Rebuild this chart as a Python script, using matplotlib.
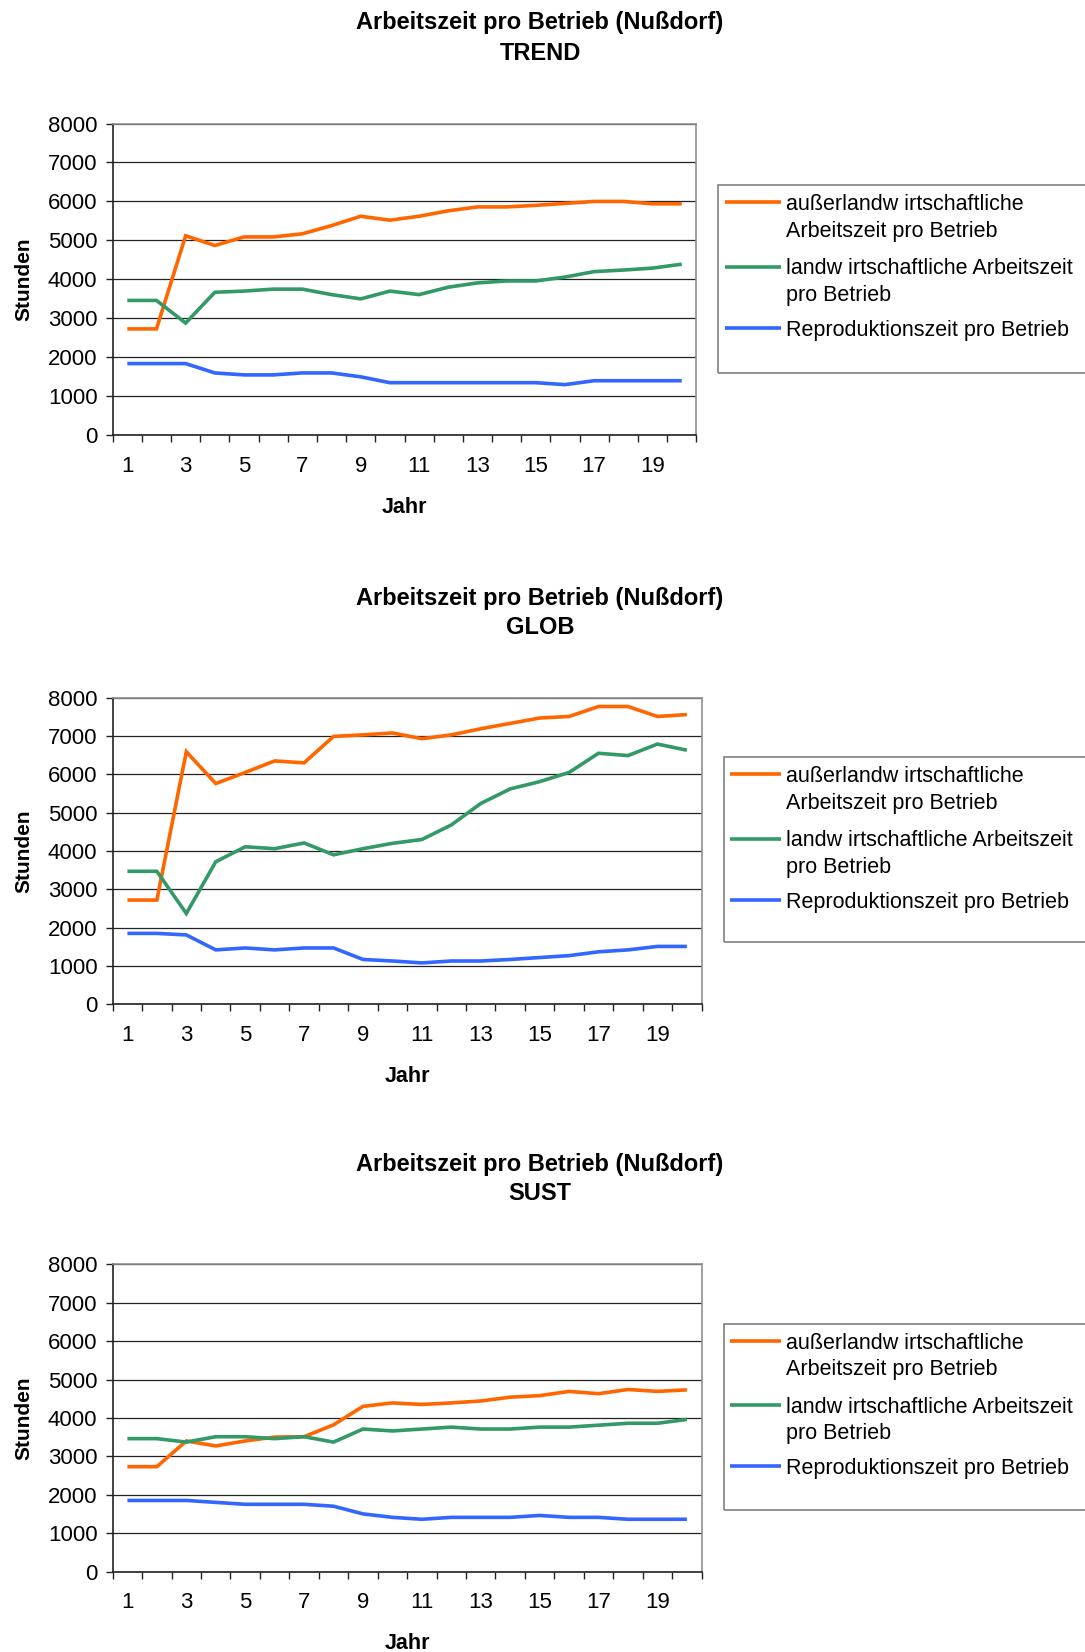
import matplotlib
matplotlib.use("Agg")
import matplotlib.pyplot as plt
from matplotlib.lines import Line2D
from matplotlib.patches import Rectangle
from matplotlib.ticker import FixedLocator, NullFormatter

plt.rcParams['font.family'] = ['Liberation Sans', 'DejaVu Sans']

years = list(range(1, 21))

title_main = "Arbeitszeit pro Betrieb (Nußdorf)"
scenarios = ["TREND", "GLOB", "SUST"]

series_labels = [
    "außerlandw irtschaftliche\nArbeitszeit pro Betrieb",
    "landw irtschaftliche Arbeitszeit\npro Betrieb",
    "Reproduktionszeit pro Betrieb",
]
series_colors = ["#FF6600", "#339966", "#3366FF"]

# TREND scenario (hours per farm)
trend_ausser = [2730, 2730, 5120, 4870, 5090, 5090, 5170, 5380, 5620, 5520,
                5620, 5760, 5860, 5860, 5900, 5950, 6000, 6000, 5940, 5940]
trend_landw = [3460, 3460, 2880, 3670, 3700, 3750, 3750, 3610, 3500, 3700,
               3610, 3800, 3910, 3960, 3960, 4060, 4200, 4240, 4290, 4390]
trend_repro = [1840, 1840, 1840, 1600, 1550, 1550, 1600, 1600, 1500, 1350,
               1350, 1350, 1350, 1350, 1350, 1300, 1400, 1400, 1400, 1400]

# GLOB scenario
glob_ausser = [2720, 2720, 6590, 5760, 6050, 6350, 6300, 6990, 7030, 7080,
               6930, 7030, 7190, 7330, 7470, 7510, 7770, 7770, 7510, 7560]
glob_landw = [3470, 3470, 2370, 3720, 4110, 4060, 4210, 3900, 4060, 4200,
              4300, 4680, 5240, 5620, 5810, 6050, 6550, 6490, 6790, 6630]
glob_repro = [1850, 1850, 1810, 1420, 1470, 1420, 1470, 1470, 1170, 1130,
              1080, 1130, 1130, 1170, 1220, 1270, 1370, 1420, 1510, 1510]

# SUST scenario
sust_ausser = [2730, 2730, 3400, 3270, 3400, 3500, 3510, 3820, 4300, 4390,
               4350, 4390, 4440, 4540, 4580, 4690, 4630, 4740, 4690, 4730]
sust_landw = [3460, 3460, 3370, 3510, 3510, 3460, 3510, 3370, 3710, 3660,
              3710, 3760, 3710, 3710, 3760, 3760, 3810, 3860, 3860, 3960]
sust_repro = [1850, 1850, 1850, 1800, 1750, 1750, 1750, 1700, 1500, 1410,
              1360, 1410, 1410, 1410, 1460, 1410, 1410, 1360, 1360, 1360]

scenario_data = [
    (trend_ausser, trend_landw, trend_repro),
    (glob_ausser, glob_landw, glob_repro),
    (sust_ausser, sust_landw, sust_repro),
]

y_ticks = [0, 1000, 2000, 3000, 4000, 5000, 6000, 7000, 8000]
x_tick_labels = [1, 3, 5, 7, 9, 11, 13, 15, 17, 19]

W, H = 1085, 1652
fig = plt.figure(figsize=(W / 100, H / 100), dpi=100)

# panel geometry in pixels: (left, right, top, bottom)
panels = [
    (112.7, 696.3, 123.5, 435.3),
    (112.7, 701.6, 697.7, 1004.3),
    (112.7, 701.6, 1264.3, 1571.5),
]
title_y = [(23, 53), (599, 628), (1165, 1194)]
legend_box = [(718, 185, 373), (723.5, 757, 942), (723.5, 1324, 1510)]
# legend key: (line start x, line end x, first row y) in pixels
legend_key = [(724.8, 780.6, 202.3), (730, 780.6, 774.3), (730, 780.6, 1341)]
entry_offsets = [0, 64.2, 125.3]
text_x = 786

fs_tick = 16
fs_lab = 15.5
fs_leg = 15.5

for i, (ax_geo, data) in enumerate(zip(panels, scenario_data)):
    l, r, t, b = ax_geo
    ax = fig.add_axes([l / W, 1 - b / H, (r - l) / W, (b - t) / H])

    for vals, col, lab in zip(data, series_colors, series_labels):
        ax.plot(years, vals, color=col, lw=2.6, solid_capstyle='butt',
                solid_joinstyle='miter', label=lab, zorder=3)

    ax.set_xlim(0.5, 20.5)
    ax.set_ylim(0, 8000)
    ax.set_yticks(y_ticks)
    ax.set_yticklabels([str(v) for v in y_ticks])
    ax.yaxis.grid(True, color='#222222', lw=0.9)
    ax.set_axisbelow(True)

    # labelled categories, with tick marks drawn between categories
    ax.set_xticks(x_tick_labels)
    ax.set_xticklabels([str(v) for v in x_tick_labels])
    ax.xaxis.set_minor_locator(FixedLocator([k + 0.5 for k in range(0, 21)]))
    ax.xaxis.set_minor_formatter(NullFormatter())
    ax.tick_params(axis='x', which='major', length=0, pad=15, labelsize=fs_tick)
    ax.tick_params(axis='x', which='minor', length=5, width=1, color='#222222',
                   direction='out')
    ax.tick_params(axis='y', length=5, width=1, color='#222222', pad=6,
                   labelsize=fs_tick, direction='out')

    for side in ['left', 'bottom']:
        ax.spines[side].set_color('#222222')
        ax.spines[side].set_linewidth(1.2)
    for side in ['top', 'right']:
        ax.spines[side].set_color('#909090')
        ax.spines[side].set_linewidth(1.2)

    ax.set_ylabel("Stunden", fontsize=15, fontweight='bold', labelpad=10)
    ax.set_xlabel("Jahr", fontsize=fs_lab, fontweight='bold', labelpad=14)

    t1, t2 = title_y[i]
    cx = 540 / W
    fig.text(cx, 1 - t1 / H, title_main, ha='center', va='center',
             fontsize=17, fontweight='bold')
    fig.text(cx, 1 - t2 / H, scenarios[i], ha='center', va='center',
             fontsize=17, fontweight='bold')

    # legend frame, running past the right edge of the page
    bx, btop, bbot = legend_box[i]
    fig.add_artist(Rectangle((bx / W, 1 - bbot / H), (W + 20 - bx) / W,
                             (bbot - btop) / H, transform=fig.transFigure,
                             fill=False, edgecolor='#808080', lw=1.2))
    x0, x1, y0 = legend_key[i]
    for off, col, lab in zip(entry_offsets, series_colors, series_labels):
        yy = 1 - (y0 + off) / H
        fig.add_artist(Line2D([x0 / W, x1 / W], [yy, yy],
                              transform=fig.transFigure, color=col, lw=2.6,
                              solid_capstyle='butt'))
        first, *rest = lab.split("\n")
        fig.text(text_x / W, yy, first, ha='left', va='center_baseline',
                 fontsize=fs_leg)
        for k, line in enumerate(rest, start=1):
            fig.text(text_x / W, 1 - (y0 + off + 26.3 * k) / H, line,
                     ha='left', va='center_baseline', fontsize=fs_leg)

fig.savefig("out.png", dpi=100)
